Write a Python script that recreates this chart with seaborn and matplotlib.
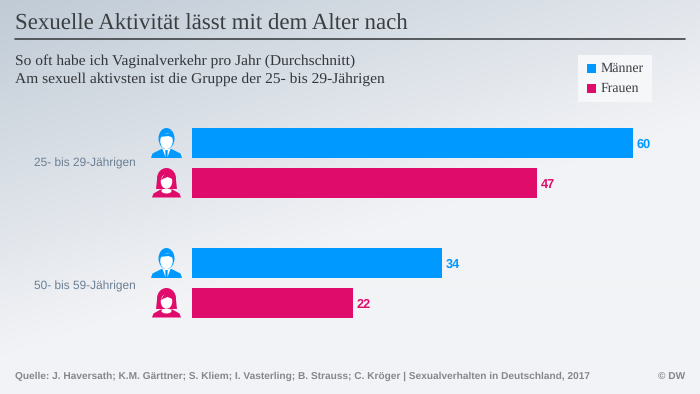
import matplotlib
matplotlib.use("Agg")
import matplotlib.pyplot as plt
from matplotlib.patches import Ellipse, Polygon, Rectangle
import numpy as np
import pandas as pd
import seaborn as sns

title = 'Sexuelle Aktivität lässt mit dem Alter nach'
subtitle = ['So oft habe ich Vaginalverkehr pro Jahr (Durchschnitt)',
            'Am sexuell aktivsten ist die Gruppe der 25- bis 29-Jährigen']
source = 'Quelle: J. Haversath; K.M. Gärttner; S. Kliem; I. Vasterling; B. Strauss; C. Kröger | Sexualverhalten in Deutschland, 2017'
credit = '© DW'

age_groups = ['25- bis 29-Jährigen', '50- bis 59-Jährigen']
men = [60, 34]
women = [47, 22]
genders = ['Männer', 'Frauen']
colors = ['#0099ff', '#e00c6b']

sns.set_style("white")
plt.rcParams['font.family'] = ['Liberation Sans', 'DejaVu Sans']
plt.rcParams['text.hinting'] = 'no_hinting'
SERIF = ['Liberation Serif', 'DejaVu Serif']

df = pd.DataFrame({'age': age_groups * 2,
                   'gender': [genders[0]] * 2 + [genders[1]] * 2,
                   'value': men + women})

fig = plt.figure(figsize=(7.0, 3.94), dpi=100)

# background gradient, darker in the top left corner
bg = fig.add_axes([0, 0, 1, 1], zorder=0)
yy, xx = np.mgrid[0:1:200j, 0:1:350j]
t = np.clip((xx * 0.6 + yy * 1.0) / 0.9, 0, 1)
top, bottom = np.array([192, 203, 214]) / 255, np.array([242, 243, 246]) / 255
bg.imshow(top + (bottom - top) * t[..., None], aspect='auto', extent=(0, 700, 394, 0))
bg.set_xlim(0, 700)
bg.set_ylim(394, 0)
bg.axis('off')

# bars, one unit is 7.36 px
ax = fig.add_axes([191.5 / 700, 1 - 343 / 394, 500 / 700, 240 / 394], zorder=1)
ax.patch.set_alpha(0)
sns.barplot(data=df, y='age', x='value', hue='gender', palette=colors, ax=ax,
            orient='h', width=0.667, gap=0.25, legend=False, saturation=1, linewidth=0)
ax.set_xlim(0, 500 / 7.36)
ax.set_ylim(1.5, -0.5)
ax.axis('off')
for cont, col in zip(ax.containers, colors):
    for lbl in ax.bar_label(cont, padding=2.6, color=col, fontsize=9.2, fontweight='bold'):
        lbl.set_va('center_baseline')

# overlay in pixel coordinates for text and icons
ov = fig.add_axes([0, 0, 1, 1], zorder=2)
ov.set_xlim(0, 700)
ov.set_ylim(394, 0)
ov.axis('off')

ov.text(15, 24, title, family=SERIF, fontsize=16.5, color='#3c3f42', va='center')
ov.plot([15, 685], [39, 39], color='#3f4347', lw=1.2)
ov.text(15, 61, subtitle[0], family=SERIF, fontsize=11.15, color='#33363a', va='center')
ov.text(15, 79, subtitle[1], family=SERIF, fontsize=11.15, color='#33363a', va='center')

# legend box
ov.add_patch(Rectangle((578, 55), 74, 47, color='#f5f7f9', lw=0))
for y, g, c in zip([68.5, 88.5], genders, colors):
    ov.add_patch(Rectangle((587, y - 4.5), 9, 9, color=c, lw=0))
    ov.text(601, y, g, family=SERIF, fontsize=10, color='#3c3f42', va='center')

for y, lab in zip([163, 286], age_groups):
    ov.text(136, y, lab, fontsize=8.6, color='#6b7f93', va='center', ha='right')


def man(cx, top_y, c):
    ov.add_patch(Polygon([(cx - 15.5, top_y + 30), (cx - 14, top_y + 25.5), (cx - 5, top_y + 21),
                          (cx + 5, top_y + 21), (cx + 14, top_y + 25.5), (cx + 15.5, top_y + 30)],
                         color=c, lw=0))
    ov.add_patch(Polygon([(cx - 4, top_y + 21), (cx + 4, top_y + 21), (cx + 1, top_y + 29),
                          (cx - 1, top_y + 29)], color='white', lw=0))
    ov.add_patch(Polygon([(cx - 1.2, top_y + 22), (cx + 1.2, top_y + 22), (cx + 1, top_y + 29),
                          (cx - 1, top_y + 29)], color=c, lw=0))
    ov.add_patch(Ellipse((cx, top_y + 10.5), 16, 21, color=c, lw=0))
    ov.add_patch(Ellipse((cx, top_y + 13), 12.5, 16, color='white', lw=0))
    ov.add_patch(Polygon([(cx - 7, top_y + 9), (cx - 3, top_y + 5), (cx + 7, top_y + 6),
                          (cx + 7, top_y + 10), (cx + 2, top_y + 8)], color=c, lw=0))


def woman(cx, top_y, c):
    ov.add_patch(Polygon([(cx - 14.5, top_y + 29.5), (cx - 13, top_y + 25.5), (cx - 6, top_y + 21.5),
                          (cx + 6, top_y + 21.5), (cx + 13, top_y + 25.5), (cx + 14.5, top_y + 29.5)],
                         color=c, lw=0))
    ov.add_patch(Ellipse((cx, top_y + 23), 10, 5, color='white', lw=0))
    ov.add_patch(Ellipse((cx, top_y + 10.5), 19, 21, color=c, lw=0))
    ov.add_patch(Polygon([(cx - 9.5, top_y + 12), (cx + 9.5, top_y + 12), (cx + 10.5, top_y + 21),
                          (cx - 10.5, top_y + 21)], color=c, lw=0))
    ov.add_patch(Ellipse((cx, top_y + 13.5), 11.5, 14.5, color='white', lw=0))
    ov.add_patch(Polygon([(cx - 6, top_y + 12), (cx - 1, top_y + 5), (cx + 6, top_y + 6),
                          (cx + 6, top_y + 11), (cx + 1, top_y + 9)], color=c, lw=0))


for y in [128, 248]:
    man(166.5, y, colors[0])
for y in [168, 288]:
    woman(166.5, y, colors[1])

ov.text(15, 376, source, fontsize=7.32, color='#84888d', va='center', fontweight='bold')
ov.text(685, 376, credit, fontsize=7.32, color='#84888d', va='center_baseline', ha='right', fontweight='bold')

fig.savefig('out.png', dpi=100)
